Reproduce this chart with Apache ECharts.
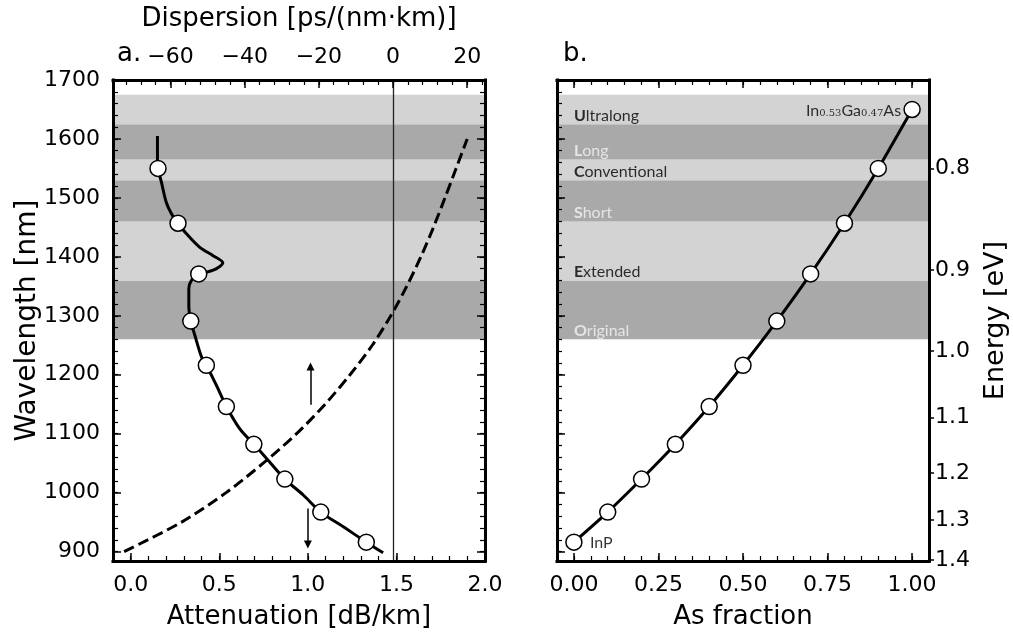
<!DOCTYPE html>
<html><head><meta charset="utf-8">
<script src="https://cdn.jsdelivr.net/npm/echarts@6/dist/echarts.min.js"></script>
<style>html,body{margin:0;padding:0;background:#fff}#c{width:1013px;height:635px}</style>
</head><body><div id="c"></div>
<script>
const FONT = 'DejaVu Sans';
const LABEL_FONT = 'Lato';

// Telecom bands (nm)
const bandNames = ['Original', 'Extended', 'Short', 'Conventional', 'Long', 'Ultralong'];
const bandLower = [1260, 1360, 1460, 1530, 1565, 1625];
const bandUpper = [1360, 1460, 1530, 1565, 1625, 1675];

// Panel a: attenuation curve (wavelength nm, dB/km)
const attLambda = [1605, 1561, 1549, 1527, 1493, 1473, 1457, 1439, 1416, 1402, 1390, 1380, 1374, 1371, 1360, 1346, 1317, 1291, 1267, 1230, 1216, 1182, 1146, 1108, 1082, 1058, 1023, 996, 967, 942, 916, 898];
const attValue  = [0.151, 0.151, 0.154, 0.173, 0.20, 0.23, 0.267, 0.315, 0.39, 0.465, 0.52, 0.484, 0.43, 0.384, 0.343, 0.328, 0.328, 0.339, 0.362, 0.40, 0.427, 0.484, 0.54, 0.616, 0.695, 0.767, 0.87, 0.974, 1.073, 1.2, 1.33, 1.425];
// Panel a: attenuation markers
const attMarkLambda = [1550, 1457, 1371, 1291, 1216, 1146, 1082, 1023, 967, 916];
const attMarkValue  = [0.154, 0.267, 0.384, 0.339, 0.427, 0.54, 0.695, 0.87, 1.073, 1.33];
// Panel a: dispersion (ps/(nm km))
const dispLambda = [900, 950, 1000, 1050, 1100, 1150, 1200, 1250, 1300, 1350, 1400, 1450, 1500, 1550, 1600];
const dispValue  = [-72.5, -57, -45, -35, -26, -18.3, -11.6, -5.6, -0.6, 3.7, 7.5, 10.9, 14, 17, 20];
// Panel a: arrows (attenuation, wavelength)
const arrowUp = [[1.015, 1149], [1.015, 1214]];
const arrowDown = [[1.0, 973], [1.0, 912]];

// Panel b: InGaAs bandgap wavelength vs As fraction
const asFraction = [0, 0.1, 0.2, 0.3, 0.4, 0.5, 0.6, 0.7, 0.8, 0.9, 1.0];
const gapLambda  = [916, 967, 1023, 1082, 1146, 1216, 1291, 1371, 1457, 1550, 1650];

// Tick labels
const attTicks = [0, 0.5, 1.0, 1.5, 2.0];
const dispTicks = [-60, -40, -20, 0, 20];
const lambdaTicks = [900, 1000, 1100, 1200, 1300, 1400, 1500, 1600, 1700];
const asTicks = [0, 0.25, 0.5, 0.75, 1.0];
const energyTicks = [0.8, 0.9, 1.0, 1.1, 1.2, 1.3, 1.4];
const HC = 1239.84; // eV nm

function steps(a, b, s) { const r = []; for (let v = a; v <= b + 1e-9; v += s) r.push(+v.toFixed(6)); return r; }

const TICK_FS = 22, NAME_FS = 26;
const LINE = { show: true, onZero: false, lineStyle: { color: '#000', width: 3, cap: 'square' } };
const NOLINE = { show: false, onZero: false };
function major(vals) { return { show: true, inside: true, length: 8, lineStyle: { color: '#000', width: 1.5 }, customValues: vals }; }
function minor(vals) { return { show: true, inside: true, length: 5, lineStyle: { color: '#000', width: 1.2 }, customValues: vals }; }
function ax(o) {
  return Object.assign({ type: 'value', splitLine: { show: false }, axisLine: NOLINE, axisTick: { show: false }, axisLabel: { show: false }, z: 10, nameMoveOverlap: false }, o);
}
const lab = (vals, fmt, margin) => ({ show: true, customValues: vals, formatter: fmt, fontSize: TICK_FS, color: '#000', fontFamily: FONT, margin: margin });
const nameStyle = fs => ({ fontSize: fs, color: '#000', fontFamily: FONT });

const LMIN = 884, LMAX = 1700;
const attRange = { min: -0.1, max: 2.0 };
const dispRange = { min: -75.5, max: 24.8 };
const asRange = { min: -0.05, max: 1.05 };

const xAxis = [
  ax(Object.assign({ gridIndex: 0, position: 'bottom', axisLine: LINE, axisTick: major(attTicks), axisLabel: lab(attTicks, v => v.toFixed(1), 13),
     name: 'Attenuation [dB/km]', nameLocation: 'middle', nameGap: 43, nameTextStyle: nameStyle(NAME_FS) }, attRange)),
  ax(Object.assign({ gridIndex: 0, position: 'bottom', axisTick: minor(steps(-0.1, 2.0, 0.1)) }, attRange)),
  ax(Object.assign({ gridIndex: 0, position: 'top', axisLine: LINE, axisTick: major(dispTicks), axisLabel: lab(dispTicks, v => (v < 0 ? '\u2212' + Math.abs(v) : '' + v), 12),
     name: 'Dispersion [ps/(nm\u00b7km)]', nameLocation: 'middle', nameGap: 48, nameTextStyle: nameStyle(NAME_FS) }, dispRange)),
  ax(Object.assign({ gridIndex: 0, position: 'top', axisTick: minor(steps(-72, 24, 4)) }, dispRange)),
  ax(Object.assign({ gridIndex: 1, position: 'bottom', axisLine: LINE, axisTick: major(asTicks), axisLabel: lab(asTicks, v => v.toFixed(2), 13),
     name: 'As fraction', nameLocation: 'middle', nameGap: 43, nameTextStyle: nameStyle(NAME_FS) }, asRange)),
  ax(Object.assign({ gridIndex: 1, position: 'bottom', axisTick: minor(steps(-0.05, 1.05, 0.05)) }, asRange)),
  ax(Object.assign({ gridIndex: 1, position: 'top', axisLine: LINE, axisTick: major(asTicks) }, asRange)),
  ax(Object.assign({ gridIndex: 1, position: 'top', axisTick: minor(steps(-0.05, 1.05, 0.05)) }, asRange))
];
const lam = { min: LMIN, max: LMAX };
const energyLambda = energyTicks.map(e => HC / e);
const yAxis = [
  ax(Object.assign({ gridIndex: 0, position: 'left', axisLine: LINE, axisTick: major(lambdaTicks), axisLabel: lab(lambdaTicks, v => '' + Math.round(v), 13),
     name: 'Wavelength [nm]', nameLocation: 'middle', nameGap: 71, nameRotate: 90, nameTextStyle: nameStyle(28) }, lam)),
  ax(Object.assign({ gridIndex: 0, position: 'left', axisTick: minor(steps(900, 1700, 20)) }, lam)),
  ax(Object.assign({ gridIndex: 0, position: 'right', axisLine: LINE, axisTick: major(lambdaTicks) }, lam)),
  ax(Object.assign({ gridIndex: 0, position: 'right', axisTick: minor(steps(900, 1700, 20)) }, lam)),
  ax(Object.assign({ gridIndex: 1, position: 'left', axisLine: LINE, axisTick: major(lambdaTicks) }, lam)),
  ax(Object.assign({ gridIndex: 1, position: 'left', axisTick: minor(steps(900, 1700, 20)) }, lam)),
  ax(Object.assign({ gridIndex: 1, position: 'right', axisLine: LINE,
     axisTick: { show: true, inside: false, length: 5, lineStyle: { color: '#000', width: 1.5 }, customValues: energyLambda },
     axisLabel: lab(energyLambda, v => (HC / v).toFixed(1), 6),
     name: 'Energy [eV]', nameLocation: 'middle', nameGap: 53, nameRotate: 90, nameTextStyle: nameStyle(27) }, lam))
];

const DARK = '#a9a9a9', LIGHT = '#d3d3d3';
const bandAreas = bandNames.map((n, i) => [
  { yAxis: bandLower[i], itemStyle: { color: i % 2 === 0 ? DARK : LIGHT } },
  { yAxis: bandUpper[i] }
]);
const bandSeries = (xi, yi) => ({
  type: 'line', xAxisIndex: xi, yAxisIndex: yi, data: [], z: 1, silent: true,
  markArea: { silent: true, data: bandAreas, label: { show: false } }
});
const markerStyle = { color: '#fff', borderColor: '#000', borderWidth: 1.5, opacity: 1 };

const bandLabelData = bandNames.map((n, i) => {
  const c = i % 2 === 0 ? '#f4f4f4' : '#000';
  return {
    value: [0, bandLower[i] + 14],
    label: {
      formatter: '{b|' + n[0] + '}{r|' + n.slice(1) + '}',
      rich: { b: { fontWeight: 'bold', color: c, fontSize: 16, fontFamily: LABEL_FONT }, r: { color: c, fontSize: 16, fontFamily: LABEL_FONT } }
    }
  };
});

const compoundLabels = [
  { value: [asFraction[0], gapLambda[0]], label: { position: 'right', distance: 16, formatter: '{m|InP}' } },
  { value: [asFraction[10], gapLambda[10]], label: { position: 'left', distance: 11, formatter: '{m|In}{s|0.53}{m|Ga}{s|0.47}{m|As}' } }
];

const option = {
  animation: false,
  backgroundColor: '#fff',
  textStyle: { fontFamily: FONT },
  title: [
    { text: 'a.', left: 117, top: 41, padding: 0, textStyle: { fontSize: 26, fontWeight: 'normal', color: '#000', fontFamily: FONT } },
    { text: 'b.', left: 563, top: 41, padding: 0, textStyle: { fontSize: 26, fontWeight: 'normal', color: '#000', fontFamily: FONT } }
  ],
  grid: [
    { left: 113, top: 80, width: 372, height: 483 },
    { left: 557, top: 80, width: 372, height: 483 }
  ],
  xAxis: xAxis,
  yAxis: yAxis,
  series: [
    bandSeries(0, 0),
    {
      type: 'line', xAxisIndex: 2, yAxisIndex: 0, z: 3, silent: true,
      data: dispLambda.map((l, i) => [dispValue[i], l]),
      showSymbol: false, symbol: 'none', smooth: 0.3,
      lineStyle: { color: '#000', width: 3, type: [11, 5] },
      markLine: { silent: true, symbol: 'none', label: { show: false }, lineStyle: { color: '#222', width: 1.3, type: 'solid' }, data: [{ xAxis: 0 }] }
    },
    {
      type: 'line', xAxisIndex: 0, yAxisIndex: 0, z: 4, silent: true,
      data: attLambda.map((l, i) => [attValue[i], l]),
      showSymbol: false, symbol: 'none', smooth: 0.3,
      lineStyle: { color: '#000', width: 3 }
    },
    {
      type: 'scatter', xAxisIndex: 0, yAxisIndex: 0, z: 5, silent: true,
      data: attMarkLambda.map((l, i) => [attMarkValue[i], l]),
      symbolSize: 16, itemStyle: markerStyle
    },
    {
      type: 'line', xAxisIndex: 0, yAxisIndex: 0, data: [], z: 4, silent: true,
      markLine: {
        silent: true, symbol: ['none', 'triangle'], symbolSize: 8, label: { show: false },
        lineStyle: { color: '#000', width: 1.5, type: 'solid' },
        data: [
          [{ coord: arrowUp[0] }, { coord: arrowUp[1] }],
          [{ coord: arrowDown[0] }, { coord: arrowDown[1] }]
        ]
      }
    },
    bandSeries(4, 4),
    {
      type: 'line', xAxisIndex: 4, yAxisIndex: 4, z: 4, silent: true,
      data: asFraction.map((x, i) => [x, gapLambda[i]]),
      showSymbol: false, symbol: 'none', smooth: 0.2,
      lineStyle: { color: '#000', width: 3 }
    },
    {
      type: 'scatter', xAxisIndex: 4, yAxisIndex: 4, z: 5, silent: true,
      data: asFraction.map((x, i) => [x, gapLambda[i]]),
      symbolSize: 16, itemStyle: markerStyle
    },
    {
      type: 'scatter', xAxisIndex: 4, yAxisIndex: 4, z: 6, silent: true,
      data: bandLabelData, symbolSize: 0,
      label: { show: true, position: 'right', distance: 0, verticalAlign: 'middle' }
    },
    {
      type: 'scatter', xAxisIndex: 4, yAxisIndex: 4, z: 6, silent: true,
      data: compoundLabels, symbolSize: 0,
      label: {
        show: true, verticalAlign: 'middle',
        rich: {
          m: { fontSize: 16, color: '#000', fontFamily: LABEL_FONT, verticalAlign: 'bottom', lineHeight: 18 },
          s: { fontSize: 10, color: '#000', fontFamily: 'DejaVu Serif', verticalAlign: 'bottom', lineHeight: 18, padding: [6, 0, 0, 0] }
        }
      }
    }
  ]
};
const chart = echarts.init(document.getElementById('c'), null, { renderer: 'canvas' });
chart.setOption(option);
</script>
</body></html>
